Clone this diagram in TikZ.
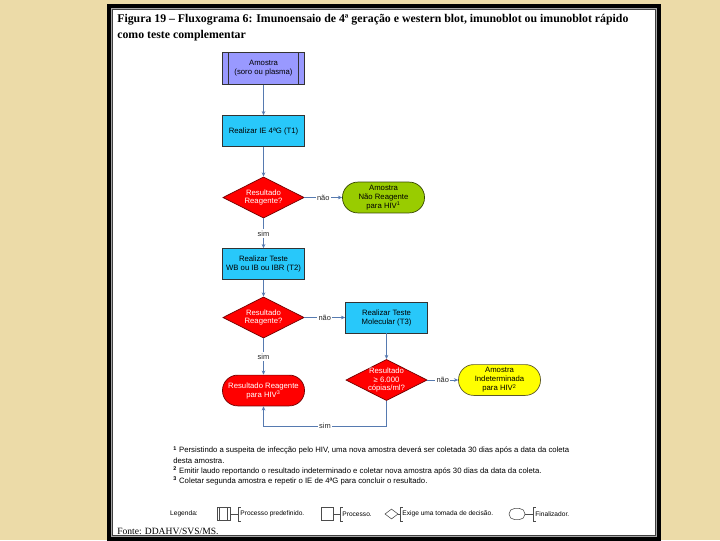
\documentclass[tikz,border=0pt]{standalone}
\usepackage{fontspec}
\setmainfont{Liberation Serif}
\setsansfont{Liberation Sans}
\usetikzlibrary{arrows.meta,positioning,shapes.geometric}

\definecolor{paper}{RGB}{236,219,168}
\definecolor{flowline}{RGB}{86,122,176}
\definecolor{predefcol}{RGB}{153,153,255}
\definecolor{proccol}{RGB}{40,200,250}
\definecolor{deccol}{RGB}{255,0,0}
\definecolor{okcol}{RGB}{153,204,0}
\definecolor{indetcol}{RGB}{255,255,0}

\begin{document}
\begin{tikzpicture}[x=0.025cm, y=-0.025cm,
    boxtext/.style={font=\sffamily\fontsize{5.5}{6.4}\selectfont, align=center, inner sep=1pt},
    predef/.style={boxtext, draw=black!80, fill=predefcol, line width=.5pt,
                   minimum width=2.05cm, minimum height=0.8cm,
                   path picture={\draw[line width=.5pt]
                     ([xshift=#1]path picture bounding box.north west) -- ([xshift=#1]path picture bounding box.south west)
                     ([xshift=-#1]path picture bounding box.north east) -- ([xshift=-#1]path picture bounding box.south east);}},
    predef/.default=0.15cm,
    proc/.style={boxtext, draw=black!80, fill=proccol, line width=.5pt,
                 minimum width=2.05cm, minimum height=0.77cm},
    decision/.style={diamond, draw=red!45!black, fill=deccol, line width=.5pt,
                     minimum width=2.03cm, minimum height=1.03cm, inner sep=0pt},
    dectext/.style={boxtext, text=white, font=\sffamily\fontsize{5.5}{6.1}\selectfont},
    term/.style={boxtext, draw, line width=.5pt, rounded corners=0.38cm,
                 minimum width=2.05cm, minimum height=0.77cm},
    arr/.style={-{Stealth[length=3pt,width=2.6pt]}, flowline, line width=.6pt},
    lbl/.style={font=\sffamily\fontsize{5.3}{6}\selectfont, text=black!85, fill=white, inner sep=1pt},
    legfont/.style={font=\sffamily\fontsize{4.7}{5.5}\selectfont},
    legtxt/.style={legfont, anchor=west, minimum height=0.33cm, inner sep=1.5pt},
    legline/.style={black!70, line width=.4pt}
  ]
    % fundo e moldura
    \useasboundingbox (0,0) rectangle (720,540);
    \fill[paper] (0,0) rectangle (720,540);
    \fill[black] (107,4) rectangle (661,541);
    \fill[black!35] (111,8) rectangle (657,537);
    \filldraw[fill=white, draw=black!75, line width=.5pt] (112.5,9.5) rectangle (655,535.5);

    \node[anchor=north west, align=left, inner sep=0pt,
          font=\bfseries\fontsize{8.4}{11.3}\selectfont] (titulo) at (117,14)
      {Figura 19 -- Fluxograma 6: Imunoensaio de 4ª geração e western blot, imunoblot ou imunoblot rápido\\como teste complementar};

    % fluxograma
    \node[predef] (amostra) at (263.5,68.5) {Amostra\\(soro ou plasma)};
    \node[proc]   (ie)      at (263.5,131)  {Realizar IE 4ªG (T1)};
    \node[decision, label={[dectext]center:Resultado\\Reagente?}] (res1) at (263.5,197.5) {};
    \node[term, fill=okcol, draw=okcol!35!black] (naoreag) at (383.5,197.5)
      {Amostra\\Não Reagente\\para HIV\textsuperscript{1}};
    \node[proc]   (wb)      at (263.5,264)  {Realizar Teste\\WB ou IB ou IBR (T2)};
    \node[decision, label={[dectext]center:Resultado\\Reagente?}] (res2) at (263.5,317.5) {};
    \node[proc]   (mol)     at (386.5,317.5) {Realizar Teste\\Molecular (T3)};
    \node[term, fill=deccol, draw=red!45!black, text=white] (reag) at (263.5,390.5)
      {Resultado Reagente\\para HIV\textsuperscript{3}};
    \node[decision, label={[dectext]center:Resultado\\≥ 6.000\\cópias/ml?}] (res3) at (386.5,380) {};
    \node[term, fill=indetcol, draw=olive!55!black] (indet) at (499.5,380)
      {Amostra\\Indeterminada\\para HIV\textsuperscript{2}};

    \draw[arr] (amostra) -- (ie);
    \draw[arr] (ie) -- (res1);
    \draw[arr] (res1) -- node[lbl] {não} (naoreag);
    \draw[arr] (res1) -- node[lbl] {sim} (wb);
    \draw[arr] (wb) -- (res2);
    \draw[arr] (res2) -- node[lbl] {não} (mol);
    \draw[arr] (res2) -- node[lbl] {sim} (reag);
    \draw[arr] (mol) -- (res3);
    \draw[arr] (res3) -- node[lbl] {não} (indet);
    \draw[arr] (res3.south) -- ++(0,25) -| node[lbl, pos=.25] {sim} (reag.south);

    % notas
    \node[anchor=north west, align=left, inner sep=0pt,
          font=\sffamily\fontsize{5.5}{7.3}\selectfont] (notas) at (173,446)
      {\textsuperscript{\textbf{1}} Persistindo a suspeita de infecção pelo HIV, uma nova amostra deverá ser coletada 30 dias após a data da coleta\\
       desta amostra.\\
       \textsuperscript{\textbf{2}} Emitir laudo reportando o resultado indeterminado e coletar nova amostra após 30 dias da data da coleta.\\
       \textsuperscript{\textbf{3}} Coletar segunda amostra e repetir o IE de 4ªG para concluir o resultado.};

    % legenda
    \node[legfont, inner sep=0pt] (legenda) at (184,514) {Legenda:};
    \node[predef=0.07cm, fill=white, draw=black!70, line width=.4pt,
          minimum width=0.33cm, minimum height=0.33cm] (lgpre) at (223.5,514) {};
    \node[legtxt] (lgpretxt) at (238,514) {Processo predefinido.};
    \node[draw=black!70, line width=.4pt, minimum width=0.3cm, minimum height=0.33cm] (lgproc) at (327,514) {};
    \node[legtxt] (lgproctxt) at (340,514) {Processo.};
    \node[diamond, draw=black!70, line width=.4pt, inner sep=0pt,
          minimum width=0.33cm, minimum height=0.25cm] (lgdec) at (391.5,514) {};
    \node[legtxt] (lgdectxt) at (400,514) {Exige uma tomada de decisão.};
    \node[draw=black!70, line width=.4pt, rounded corners=0.14cm,
          minimum width=0.4cm, minimum height=0.28cm] (lgterm) at (517,514) {};
    \node[legtxt] (lgtermtxt) at (533,514) {Finalizador.};
    \foreach \s in {lgpre,lgproc,lgdec,lgterm}
      \draw[legline] (\s.east) -- (\s txt.west);
    \foreach \t in {lgpretxt,lgproctxt,lgdectxt,lgtermtxt}
      \draw[legline] ([xshift=2pt]\t.north west) -| (\t.south west) -- ++(2pt,0);

    \node[anchor=west, inner sep=0pt, font=\fontsize{6.8}{8}\selectfont] (fonte) at (117,531)
      {Fonte: DDAHV/SVS/MS.};
\end{tikzpicture}
\end{document}
